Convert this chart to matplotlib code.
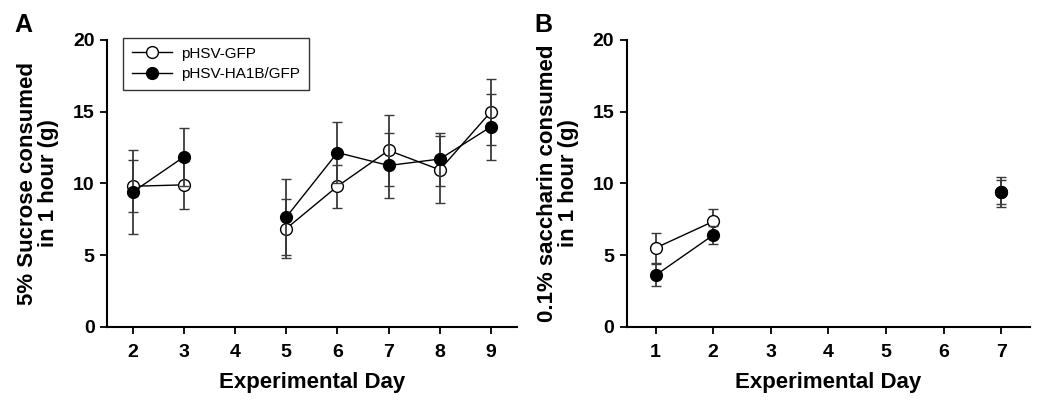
import numpy as np
import matplotlib
matplotlib.use("Agg")
import matplotlib.pyplot as plt

plt.rcParams['font.family'] = ['Liberation Sans', 'DejaVu Sans']

nan = np.nan

# Panel A: 5% sucrose
days_a = [2, 3, 4, 5, 6, 7, 8, 9]
gfp_a = [9.8, 9.9, nan, 6.85, 9.8, 12.3, 10.95, 15.0]
gfp_a_err = [1.8, 1.65, nan, 2.05, 1.5, 2.5, 2.35, 2.3]
ha1b_a = [9.4, 11.85, nan, 7.65, 12.15, 11.25, 11.7, 13.95]
ha1b_a_err = [2.9, 2.0, nan, 2.65, 2.1, 2.3, 1.85, 2.3]

# Panel B: 0.1% saccharin
days_b = [1, 2, 3, 4, 5, 6, 7]
gfp_b = [5.5, 7.35, nan, nan, nan, nan, 9.4]
gfp_b_err = [1.05, 0.85, nan, nan, nan, nan, 0.85]
ha1b_b = [3.6, 6.4, nan, nan, nan, nan, 9.4]
ha1b_b_err = [0.75, 0.65, nan, nan, nan, nan, 1.05]

labels = ['pHSV-GFP', 'pHSV-HA1B/GFP']

fig = plt.figure(figsize=(10.5, 4.04), dpi=100)
ax_a = fig.add_axes([0.102, 0.191, 0.390, 0.710])
ax_b = fig.add_axes([0.597, 0.191, 0.384, 0.710])


def draw(ax, days, g, ge, h, he):
    common = dict(color='black', ecolor='#3a3a3a', elinewidth=1.3, capsize=3.6,
                  capthick=1.3, lw=1.0, marker='o', ms=8.5, mec='black', mew=1.0)
    ax.errorbar(days, g, yerr=ge, mfc='white', label=labels[0], zorder=3, **common)
    ax.errorbar(days, h, yerr=he, mfc='black', label=labels[1], zorder=4, **common)
    ax.set_ylim(0, 20)
    ax.set_yticks([0, 5, 10, 15, 20])
    ax.set_xticks(days)
    for s in ['top', 'right']:
        ax.spines[s].set_visible(False)
    for s in ['left', 'bottom']:
        ax.spines[s].set_linewidth(1.5)
    ax.tick_params(axis='both', direction='out', length=5, width=1.3, labelsize=14)
    ax.tick_params(axis='x', pad=7)
    ax.tick_params(axis='y', pad=4)
    for t in ax.get_xticklabels() + ax.get_yticklabels():
        t.set_fontweight('bold')
    ax.set_xlabel('Experimental Day', fontsize=16, fontweight='bold', labelpad=8)


draw(ax_a, days_a, gfp_a, gfp_a_err, ha1b_a, ha1b_a_err)
ax_a.set_xlim(1.5, 9.5)
ax_a.set_ylabel('5% Sucrose consumed\nin 1 hour (g)', fontsize=16, fontweight='bold',
                labelpad=10, linespacing=1.0)

draw(ax_b, days_b, gfp_b, gfp_b_err, ha1b_b, ha1b_b_err)
ax_b.set_xlim(0.5, 7.5)
ax_b.set_ylabel('0.1% saccharin consumed\nin 1 hour (g)', fontsize=16, fontweight='bold',
                labelpad=10, linespacing=1.0)

handles, lbls = ax_a.get_legend_handles_labels()
handles = [h[0] for h in handles]
leg = ax_a.legend(handles, lbls, loc='upper left', bbox_to_anchor=(0.02, 1.035),
                  fontsize=11, frameon=True, fancybox=False, edgecolor='black',
                  handlelength=2.6, borderpad=0.6, labelspacing=0.4, handletextpad=0.6)
leg.get_frame().set_linewidth(1.0)

fig.text(0.014, 0.92, 'A', fontsize=18, fontweight='bold')
fig.text(0.509, 0.92, 'B', fontsize=18, fontweight='bold')

fig.savefig('out.png', dpi=100)
